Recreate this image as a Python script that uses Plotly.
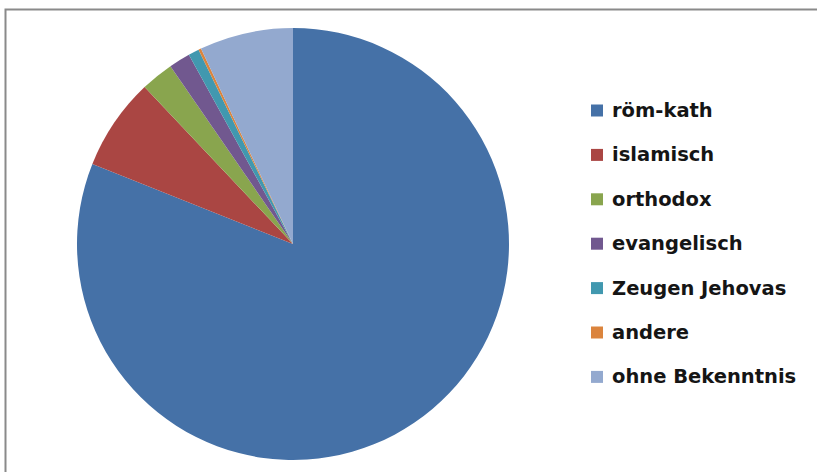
import plotly.graph_objects as go

W, H = 817, 472

labels = ["röm-kath", "islamisch", "orthodox", "evangelisch", "Zeugen Jehovas", "andere", "ohne Bekenntnis"]
values = [81.0, 6.9, 2.45, 1.6, 0.8, 0.2, 7.0]
colors = ["#4571A7", "#AA4643", "#89A54E", "#71588F", "#4198AF", "#DB843D", "#93A9CF"]

# pie geometry (pixels)
cx, cy, r = 293, 244, 216

fig = go.Figure(go.Pie(
    labels=labels,
    values=values,
    sort=False,
    direction="clockwise",
    rotation=0,
    marker=dict(colors=colors, line=dict(width=0)),
    textinfo="none",
    hoverinfo="label+value",
    showlegend=False,
    domain=dict(x=[(cx - r) / W, (cx + r) / W],
                y=[(H - (cy + r)) / H, (H - (cy - r)) / H]),
))

# frame (top and left edges visible)
fig.add_shape(type="rect", xref="paper", yref="paper",
              x0=5.5 / W, x1=1.05, y0=-0.05, y1=(H - 9.5) / H,
              line=dict(color="#8A8A8A", width=2), fillcolor="rgba(0,0,0,0)")

# legend drawn manually
lx, ly0, dy, sq = 591, 110.5, 44.4, 12
for i, (lab, col) in enumerate(zip(labels, colors)):
    yc = ly0 + i * dy
    fig.add_shape(type="rect", xref="paper", yref="paper",
                  x0=lx / W, x1=(lx + sq) / W,
                  y0=(H - (yc + sq / 2)) / H, y1=(H - (yc - sq / 2)) / H,
                  line=dict(width=0), fillcolor=col)
    fig.add_annotation(x=(lx + sq + 7) / W, y=(H - yc) / H, xref="paper", yref="paper",
                       text=lab, showarrow=False, xanchor="left", yanchor="middle",
                       font=dict(family="DejaVu Sans", size=19.5, weight="bold", color="#151515"))

fig.update_layout(
    width=W, height=H,
    margin=dict(l=0, r=0, t=0, b=0),
    paper_bgcolor="white",
    plot_bgcolor="white",
)

fig.write_html("out.html", config={"displayModeBar": False},
               post_script="document.body.style.margin='0';document.body.style.overflow='hidden';")
